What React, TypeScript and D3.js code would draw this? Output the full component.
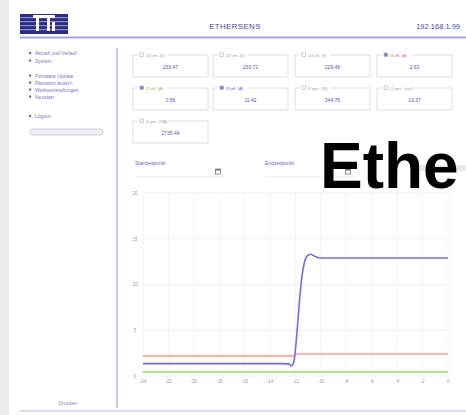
import React from "react";
import * as d3 from "d3";

// sensor boxes
const boxLabels = [
  "U1 eff. (V)", "U2 eff. (V)", "U3 eff. (V)", "I1 eff. (A)",
  "I2 eff. (A)", "I3 eff. (A)", "P ges. (W)", "Q ges. (var)",
  "S ges. (VA)",
];
const boxValues = [
  "230.47", "230.72", "229.48", "2.63",
  "0.56", "11.42", "344.76", "13.37",
  "2735.44",
];
const boxColors = ["", "", "", "#f06040", "#8cc040", "#5a58d0", "", "", ""];

const navItems = [
  "Aktuell und Verlauf", "System",
  "Firmware Update", "Passwort ändern", "Werkseinstellungen", "Neustart",
  "Logout",
];

// chart
const xTicks = [-24, -22, -20, -18, -16, -14, -12, -10, -8, -6, -4, -2, 0];
const yTicks = [0, 5, 10, 15, 20];

const redTimes = [-24, -12.2, -11.9, 0];
const redValues = [2.2, 2.2, 2.4, 2.4];

const greenTimes = [-24, 0];
const greenValues = [0.45, 0.45];

const blueTimes = [-24, -18, -13, -12.5, -12.3, -12.1, -11.9, -11.7, -11.5, -11.3, -11.1, -10.8, -10.5, -10.1, -6, 0];
const blueValues = [1.35, 1.35, 1.35, 1.3, 1.1, 1.8, 4.5, 8, 10.8, 12.4, 13.1, 13.3, 13.1, 12.9, 12.9, 12.9];

const W = 466;
const H = 415;
const uiFont = "'Liberation Sans', Arial, sans-serif";

const App = () => {
  const x = d3.scaleLinear().domain([-24, 0]).range([143, 448]);
  const y = d3.scaleLinear().domain([0, 20]).range([376, 193]);

  const line = d3
    .line<[number, number]>()
    .x((d) => x(d[0]))
    .y((d) => y(d[1]))
    .curve(d3.curveMonotoneX);

  const series = [
    { times: greenTimes, values: greenValues, color: "#b4d888" },
    { times: redTimes, values: redValues, color: "#f7a898" },
    { times: blueTimes, values: blueValues, color: "#7070d8" },
  ];

  const boxX = [133, 213, 295, 377];
  const boxY = [55, 88, 121];
  const navY = [55, 62.5, 77.5, 84.5, 91.5, 98.5, 118];

  return (
    <div style={{ position: "fixed", left: 0, top: 0, width: W, height: H, overflow: "hidden", background: "#fff" }}>
      <svg width={W} height={H} style={{ display: "block" }} fontFamily={uiFont}>
        <rect x={0} y={0} width={W} height={H} fill="#ffffff" />
        <rect x={0} y={0} width={9} height={H} fill="#ececef" />

        {/* header */}
        <g>
          <rect x={20} y={14} width={48} height={20} fill="#2e2c80" />
          {[17, 21, 25, 29].map((yy) => (
            <rect key={yy} x={20} y={yy} width={48} height={1.2} fill="#8c8ad0" />
          ))}
          <rect x={33} y={15} width={22} height={3} fill="#ffffff" />
          <rect x={36} y={18} width={3} height={13} fill="#ffffff" />
          <rect x={47} y={18} width={3} height={13} fill="#ffffff" />
          <rect x={52} y={22} width={3} height={9} fill="#ffffff" />
        </g>
        <text x={235} y={29} textAnchor="middle" fontSize={8} fill="#4a48a0" letterSpacing={0.3}>
          ETHERSENS
        </text>
        <text x={460} y={29} textAnchor="end" fontSize={7.5} fill="#4a48a0">
          192.168.1.99
        </text>
        <line x1={20} x2={W} y1={37.5} y2={37.5} stroke="#a6a4e4" strokeWidth={2} />

        {/* navigation */}
        {navItems.map((item, i) => (
          <g key={i}>
            <rect x={29} y={navY[i] - 3} width={2.2} height={2.2} fill="#6c6ac8" />
            <text x={35} y={navY[i]} fontSize={5} fill="#7a78c8">
              {item}
            </text>
          </g>
        ))}
        <rect x={30} y={129} width={73} height={6} rx={3} fill="#eeeef4" stroke="#c8c8dc" strokeWidth={0.8} />
        <line x1={117} x2={117} y1={48} y2={408} stroke="#cbc9ef" strokeWidth={2} />
        <text x={68} y={405} textAnchor="middle" fontSize={5} fill="#8a88c8">
          Drucken
        </text>
        <line x1={20} x2={W} y1={411} y2={411} stroke="#d4d2f2" strokeWidth={1.5} />

        {/* sensor boxes */}
        {boxLabels.map((label, i) => {
          const bx = boxX[i % 4];
          const by = boxY[Math.floor(i / 4)];
          const checked = boxColors[i] !== "";
          return (
            <g key={i}>
              <rect x={bx} y={by} width={75} height={22} fill="#ffffff" stroke="#d6d6de" strokeWidth={0.8} />
              <rect x={bx + 5} y={by - 3} width={30} height={6} fill="#ffffff" />
              <rect x={bx + 7} y={by - 2} width={3.5} height={3.5} fill={checked ? "#8080c8" : "#ffffff"} stroke="#aaaacc" strokeWidth={0.6} />
              <text x={bx + 13} y={by + 1.5} fontSize={4.2} fill={checked ? boxColors[i] : "#a0a0b0"}>
                {label}
              </text>
              <text x={bx + 37.5} y={by + 13.5} textAnchor="middle" fontSize={5} fill="#5a58b0">
                {boxValues[i]}
              </text>
            </g>
          );
        })}

        {/* date pickers */}
        <text x={135} y={165} fontSize={5} fill="#6a68c0">Startzeitpunkt</text>
        <line x1={135} x2={225} y1={177} y2={177} stroke="#ececf0" strokeWidth={1} />
        <rect x={215.5} y={169} width={5} height={5} fill="none" stroke="#777" strokeWidth={0.8} />
        <rect x={215.5} y={169} width={5} height={1.5} fill="#777" />
        <text x={265} y={165} fontSize={5} fill="#6a68c0">Endzeitpunkt</text>
        <line x1={265} x2={355} y1={177} y2={177} stroke="#ececf0" strokeWidth={1} />
        <rect x={345.5} y={169} width={5} height={5} fill="none" stroke="#777" strokeWidth={0.8} />
        <rect x={345.5} y={169} width={5} height={1.5} fill="#777" />
        <rect x={415} y={165} width={51} height={6} fill="#dcdcdc" opacity={0.6} />

        {/* chart grid */}
        {yTicks.map((t) => (
          <g key={"y" + t}>
            <line x1={143} x2={448} y1={y(t)} y2={y(t)} stroke="#f0f0f2" strokeWidth={1} />
            <text x={135} y={y(t) + 1.8} textAnchor="middle" fontSize={4.5} fill="#9a9aa4">
              {t}
            </text>
          </g>
        ))}
        {xTicks.map((t) => (
          <g key={"x" + t}>
            <line x1={x(t)} x2={x(t)} y1={193} y2={376} stroke="#f4f4f6" strokeWidth={1} />
            <text x={x(t)} y={383} textAnchor="middle" fontSize={4.5} fill="#9a9aa4">
              {t}
            </text>
          </g>
        ))}

        {series.map((s, i) => (
          <path
            key={i}
            d={line(s.times.map((t, j) => [t, s.values[j]] as [number, number])) || ""}
            fill="none"
            stroke={s.color}
            strokeWidth={1.6}
          />
        ))}

        {/* overlay title */}
        <text x={320} y={188} fontSize={64} fontWeight="bold" fill="#000" fontFamily="'Liberation Sans', Arial, sans-serif">
          Ethe
        </text>
      </svg>
    </div>
  );
};

export default App;
